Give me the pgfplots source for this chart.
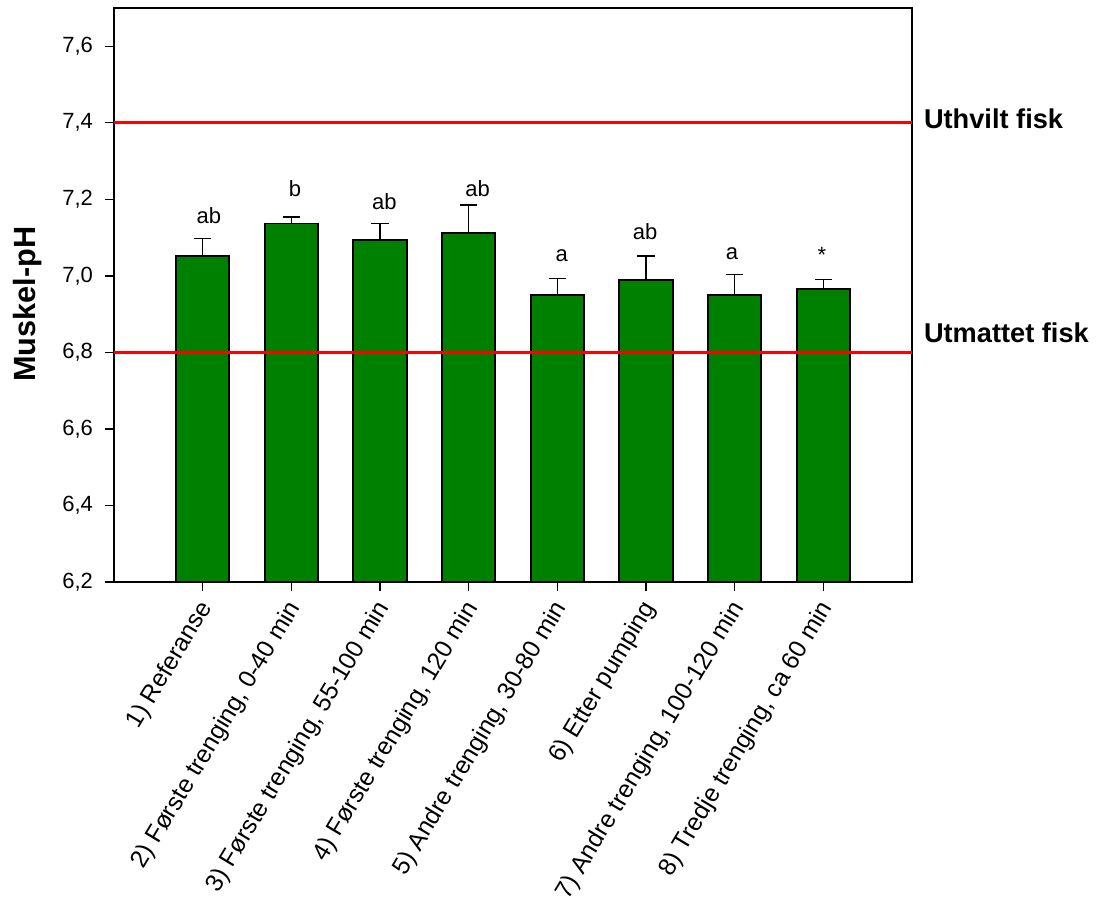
\documentclass[border=0pt]{standalone}
\usepackage{fontspec}
\setmainfont{Liberation Sans}
\usepackage{pgfplots}
\usepackage{pgfplotstable}
\pgfplotsset{compat=1.18}
\definecolor{barg}{RGB}{0,128,0}
\pgfplotstableread{
x y e
1 7.053 0.045
2 7.137 0.017
3 7.093 0.044
4 7.111 0.074
5 6.951 0.042
6 6.989 0.063
7 6.949 0.054
8 6.965 0.025
}\phdata
\begin{document}
\begin{tikzpicture}
\begin{axis}[
  scale only axis, width=598.5pt, height=430.5pt,
  xmin=0, xmax=9, ymin=6.2, ymax=7.7,
  ytick={6.2,6.4,6.6,6.8,7.0,7.2,7.4,7.6},
  xtick={1,2,3,4,5,6,7,8},
  xticklabels={{1) Referanse},{2) Første trenging, 0-40 min},{3) Første trenging, 55-100 min},{4) Første trenging, 120 min},{5) Andre trenging, 30-80 min},{6) Etter pumping},{7) Andre trenging, 100-120 min},{8) Tredje trenging, ca 60 min}},
  x tick label style={xshift=3.3pt, yshift=-9.75pt, rotate=59, anchor=east, inner sep=0pt, font=\fontsize{18.5}{21}\selectfont},
  y tick label style={font=\fontsize{16.5}{20}\selectfont, xshift=-5.5pt},
  yticklabel style={/pgf/number format/.cd, use comma, fixed, fixed zerofill, precision=1},
  /pgf/number format/assume math mode=true,
  tick align=outside, major tick length=6.75pt,
  tick pos=left,
  axis line style={line width=1pt},
  tick style={black, line width=1pt},
  ylabel={Muskel-pH},
  ylabel style={font=\fontsize{23}{26}\selectfont\bfseries, at={(axis description cs:-0.108,0.484)}, anchor=center},
  clip=false,
]
\addplot[ybar, bar width=0.6, fill=barg, draw=black, line width=1.4pt,
  error bars/.cd, y dir=plus, y explicit,
  error bar style={line width=1pt, black},
  error mark options={black, line width=1pt, mark size=6.4pt, rotate=90}]
  table[x=x, y=y, y error=e] {\phdata};
\addplot[red, line width=2.2pt, forget plot] coordinates {(0,7.4) (9,7.4)};
\addplot[red, line width=2.2pt, forget plot] coordinates {(0,6.8) (9,6.8)};
\begin{scope}[every node/.style={anchor=base, font=\fontsize{16.5}{20}\selectfont}]
\node at (axis cs:1.07,7.138) {ab};
\node at (axis cs:2.04,7.208) {b};
\node at (axis cs:3.05,7.173) {ab};
\node at (axis cs:4.10,7.208) {ab};
\node at (axis cs:5.05,7.037) {a};
\node at (axis cs:5.99,7.096) {ab};
\node at (axis cs:6.97,7.042) {a};
\node at (axis cs:7.985,7.035) {*};
\end{scope}
\node[anchor=west, xshift=5.5pt, font=\fontsize{20.4}{23}\selectfont\bfseries] at (axis cs:9,7.41) {Uthvilt fisk};
\node[anchor=west, xshift=5.5pt, font=\fontsize{20.4}{23}\selectfont\bfseries] at (axis cs:9,6.85) {Utmattet fisk};
\end{axis}
\pgfresetboundingbox
\path (current axis.south west) ++(-85.5pt,-242.25pt) rectangle ([shift={(138.75pt,6pt)}]current axis.north east);
\end{tikzpicture}
\end{document}
